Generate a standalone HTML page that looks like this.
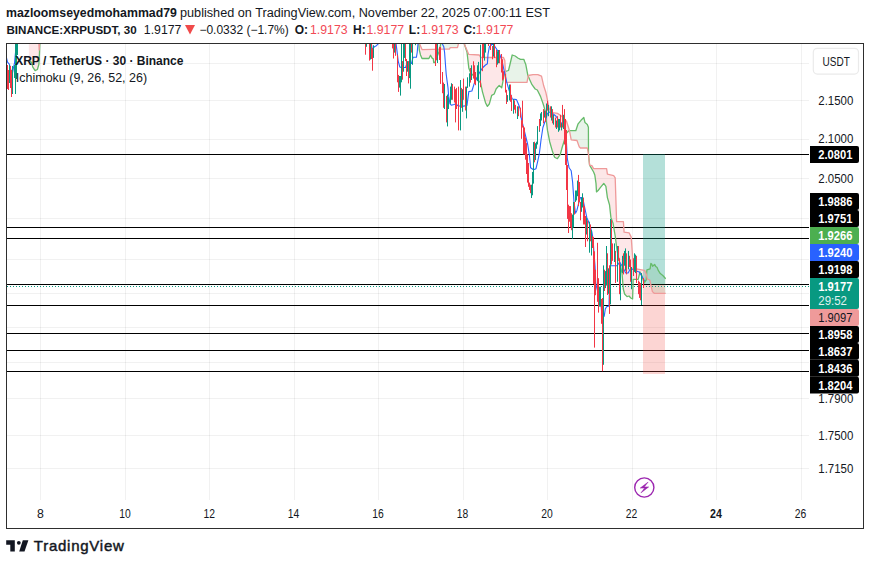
<!DOCTYPE html>
<html><head><meta charset="utf-8"><style>
html,body{margin:0;padding:0;background:#fff;width:870px;height:565px;overflow:hidden;position:relative;font-family:"Liberation Sans",sans-serif;color:#131722}
svg text{font-family:"Liberation Sans",sans-serif}
.t{position:absolute;white-space:pre;line-height:1}
.b{font-weight:bold}
.r{color:#F24A55}
</style></head><body>
<svg width="870" height="565" viewBox="0 0 870 565" style="position:absolute;left:0;top:0">
<defs><clipPath id="cp"><rect x="7" y="44" width="856" height="483"/></clipPath></defs>
<rect x="7" y="63" width="802" height="1" fill="rgba(0,0,0,0.055)"/><rect x="7" y="100" width="802" height="1" fill="rgba(0,0,0,0.055)"/><rect x="7" y="139" width="802" height="1" fill="rgba(0,0,0,0.055)"/><rect x="7" y="178" width="802" height="1" fill="rgba(0,0,0,0.055)"/><rect x="7" y="218" width="802" height="1" fill="rgba(0,0,0,0.055)"/><rect x="7" y="259" width="802" height="1" fill="rgba(0,0,0,0.055)"/><rect x="7" y="293" width="802" height="1" fill="rgba(0,0,0,0.055)"/><rect x="7" y="327" width="802" height="1" fill="rgba(0,0,0,0.055)"/><rect x="7" y="362" width="802" height="1" fill="rgba(0,0,0,0.055)"/><rect x="7" y="398" width="802" height="1" fill="rgba(0,0,0,0.055)"/><rect x="7" y="435" width="802" height="1" fill="rgba(0,0,0,0.055)"/><rect x="7" y="468" width="802" height="1" fill="rgba(0,0,0,0.055)"/><rect x="40" y="44" width="1" height="456" fill="rgba(0,0,0,0.055)"/><rect x="125" y="44" width="1" height="456" fill="rgba(0,0,0,0.055)"/><rect x="209" y="44" width="1" height="456" fill="rgba(0,0,0,0.055)"/><rect x="294" y="44" width="1" height="456" fill="rgba(0,0,0,0.055)"/><rect x="378" y="44" width="1" height="456" fill="rgba(0,0,0,0.055)"/><rect x="463" y="44" width="1" height="456" fill="rgba(0,0,0,0.055)"/><rect x="547" y="44" width="1" height="456" fill="rgba(0,0,0,0.055)"/><rect x="632" y="44" width="1" height="456" fill="rgba(0,0,0,0.055)"/><rect x="716" y="44" width="1" height="456" fill="rgba(0,0,0,0.055)"/><rect x="801" y="44" width="1" height="456" fill="rgba(0,0,0,0.055)"/>
<g clip-path="url(#cp)">
<rect x="7" y="154" width="802" height="1" fill="#000"/><rect x="7" y="227" width="802" height="1" fill="#000"/><rect x="7" y="238" width="802" height="1" fill="#000"/><rect x="7" y="284" width="802" height="1" fill="#000"/><rect x="7" y="305" width="802" height="1" fill="#000"/><rect x="7" y="333" width="802" height="1" fill="#000"/><rect x="7" y="350" width="802" height="1" fill="#000"/><rect x="7" y="371" width="802" height="1" fill="#000"/>
<rect x="643" y="154" width="22" height="130" fill="rgba(8,153,129,0.3)"/>
<rect x="643" y="285" width="22" height="89" fill="rgba(240,62,55,0.22)"/>
<polygon fill="rgba(242,54,69,0.12)" points="28.9,60.1 29.15,60.32 29.4,60.54 29.65,60.77 29.9,60.99 30.15,61.21 30.4,61.43 30.65,61.66 30.9,61.88 31.15,62.1 31.4,62.32 31.6,62.5 31.65,62.69 31.9,63.65 32.15,64.61 32.4,65.57 32.65,66.53 32.8,67.1 32.9,67.26 33.15,67.65 33.4,68.04 33.65,68.43 33.9,68.82 34.15,69.21 34.4,69.6 34.65,70 34.9,70.39 35.1,70.7 35.15,70.67 35.4,70.54 35.65,70.41 35.9,70.28 36.15,70.15 36.4,70.02 36.65,69.89 36.9,69.76 37.15,69.63 37.4,69.5 37.65,68.62 37.8,68.09 37.9,67.73 38.15,66.85 38.4,65.97 38.65,65.08 38.9,64.2 39.15,59.33 39.2,58.35 39.4,54.45 39.5,52.5 39.65,48.4 39.8,44.3 39.9,40.83 40.15,32.15 40.34,25.6 40.34,25.6 40.15,29.64 39.9,35 39.8,37.14 39.65,40.36 39.5,43.57 39.4,45.71 39.2,50 39.15,48.93 38.9,43.57 38.65,38.21 38.4,32.86 38.15,27.5 37.9,22.14 37.8,20 37.65,20 37.4,20 37.15,20 36.9,20 36.65,20 36.4,20 36.15,20 35.9,20 35.65,20 35.4,20 35.15,20 35.1,20 34.9,20 34.65,20 34.4,20 34.15,20 33.9,20 33.65,20 33.4,20 33.15,20 32.9,20 32.8,20 32.65,20 32.4,20 32.15,20 31.9,20 31.65,20 31.6,20 31.4,20 31.15,20 30.9,20 30.65,20 30.4,20 30.15,20 29.9,20 29.65,20 29.4,20 29.15,20 28.9,20"/><polygon fill="rgba(67,160,71,0.12)" points="40.34,25.6 40.4,23.47 40.5,20 40.5,22.14 40.4,24.29 40.34,25.6"/><polygon fill="rgba(242,54,69,0.12)" points="418.5,20 418.75,39.17 418.8,43 419,45.8 419.25,49.3 419.3,50 419.5,50.82 419.75,51.84 420,52.86 420.25,53.88 420.5,54.9 420.75,55.5 421,56.1 421.25,56.7 421.5,57.3 421.75,57.9 422,58.5 422.25,58.5 422.5,58.5 422.75,58.5 423,58.5 423.25,58.5 423.5,58.5 423.75,58.5 424,58.5 424.25,58.5 424.5,58.5 424.75,58.5 425,58.5 425.25,58.5 425.5,58.5 425.75,58.5 426,58.5 426.25,58.5 426.5,58.5 426.75,58.5 427,58.5 427.25,58.5 427.5,58.5 427.75,58.5 428,58.5 428.25,58.5 428.5,58.5 428.75,58.5 428.9,58.5 429,58.3 429.25,57.8 429.5,57.3 429.75,56.8 430,56.3 430.25,55.8 430.5,55.3 430.75,55.74 431,56.17 431.25,56.61 431.5,57.05 431.75,57.49 432,57.92 432.1,58.1 432.25,58.2 432.5,58.37 432.75,58.53 433,58.7 433.25,58.87 433.3,58.9 433.5,60.7 433.7,62.5 433.75,62.5 434,62.5 434.25,62.5 434.5,62.5 434.75,62.5 435,62.5 435.25,61.81 435.5,61.12 435.75,60.44 436,59.75 436.25,59.06 436.5,58.38 436.75,57.69 437,57 437.25,56.34 437.5,55.67 437.75,55.01 438,54.35 438.25,53.69 438.5,53.03 438.75,52.36 439,51.7 439.25,50.56 439.5,49.42 439.53,49.28 439.53,49.28 439.5,49.28 439.25,49.28 439,49.29 438.75,49.29 438.5,49.3 438.25,49.3 438,49.31 437.75,49.31 437.5,49.32 437.25,49.32 437,49.32 436.75,49.33 436.5,49.33 436.25,49.34 436,49.34 435.75,49.35 435.5,49.35 435.25,49.36 435,49.36 434.75,49.37 434.5,49.37 434.25,49.38 434,49.38 433.75,49.38 433.7,49.39 433.5,49.39 433.3,49.39 433.25,49.39 433,49.4 432.75,49.4 432.5,49.41 432.25,49.41 432.1,49.41 432,49.42 431.75,49.42 431.5,49.43 431.25,49.43 431,49.43 430.75,49.44 430.5,49.44 430.25,49.45 430,49.45 429.75,49.46 429.5,49.46 429.25,49.47 429,49.47 428.9,49.47 428.75,49.48 428.5,49.48 428.25,49.49 428,49.49 427.75,49.49 427.5,49.5 427.25,49.5 427,49.51 426.75,49.51 426.5,49.52 426.25,49.52 426,49.53 425.75,49.53 425.5,49.54 425.25,49.54 425,49.54 424.75,49.55 424.5,49.55 424.25,49.56 424,49.56 423.75,49.57 423.5,49.57 423.25,49.58 423,49.58 422.75,49.59 422.5,49.59 422.25,49.6 422,49.6 421.75,48.99 421.5,48.38 421.25,47.77 421,47.16 420.75,46.54 420.5,45.93 420.25,45.32 420,44.71 419.75,44.1 419.5,43.49 419.3,43 419.25,41.56 419,34.37 418.8,28.63 418.75,27.19 418.5,20"/><polygon fill="rgba(67,160,71,0.12)" points="439.53,49.28 439.75,48.28 440,47.14 440.25,46 440.5,44.86 440.6,44.4 440.75,40.33 441,33.56 441.25,26.78 441.5,20 441.75,20 442,20 442.25,20 442.5,20 442.75,20 443,20 443.25,20 443.5,20 443.75,20 443.8,20 444,20 444.25,20 444.5,20 444.75,20 445,20 445.25,20 445.5,20 445.75,20 446,20 446.25,20 446.5,20 446.75,20 447,20 447.25,20 447.5,20 447.75,20 448,20 448.25,20 448.5,20 448.75,20 449,20 449.25,20 449.4,20 449.5,20 449.75,20 450,20 450.2,20 450.25,20 450.5,20 450.75,20 451,20 451.25,20 451.5,20 451.75,20 452,20 452.25,20 452.5,20 452.75,20 453,20 453.25,20 453.5,20 453.75,20 454,20 454.25,20 454.5,20 454.75,20 455,20 455.25,20 455.5,20 455.75,20 456,20 456.25,20 456.5,20 456.75,20 457,20 457.25,20 457.5,20 457.75,20 458,20 458.25,20 458.3,20 458.5,20 458.75,20 459,20 459.2,20 459.2,20 459,25.42 458.75,32.2 458.5,38.98 458.3,44.4 458.25,44.6 458,45.6 457.75,46.6 457.5,47.6 457.25,47.6 457,47.6 456.75,47.6 456.5,47.6 456.25,47.6 456,47.6 455.75,47.6 455.5,47.6 455.25,47.6 455,47.6 454.75,47.6 454.5,47.6 454.25,47.6 454,47.6 453.75,47.6 453.5,47.6 453.25,47.6 453,47.6 452.75,47.6 452.5,47.6 452.25,47.6 452,47.6 451.75,47.6 451.5,47.6 451.25,47.6 451,47.6 450.75,47.6 450.5,47.6 450.25,47.6 450.2,47.6 450,48 449.75,48.5 449.5,49 449.4,49.2 449.25,49.2 449,49.2 448.75,49.2 448.5,49.2 448.25,49.2 448,49.2 447.75,49.2 447.5,49.2 447.25,49.2 447,49.2 446.75,49.2 446.5,49.2 446.25,49.2 446,49.2 445.75,49.2 445.5,49.2 445.25,49.2 445,49.2 444.75,49.2 444.5,49.2 444.25,49.2 444,49.2 443.8,49.2 443.75,49.2 443.5,49.21 443.25,49.21 443,49.21 442.75,49.22 442.5,49.22 442.25,49.23 442,49.23 441.75,49.24 441.5,49.24 441.25,49.25 441,49.25 440.75,49.26 440.6,49.26 440.5,49.26 440.25,49.27 440,49.27 439.75,49.27 439.53,49.28"/><polygon fill="rgba(67,160,71,0.12)" points="464.2,20 464.45,40.42 464.5,44.5 464.5,44.5 464.5,44.5 464.5,44.5 464.45,40.42 464.2,20"/><polygon fill="rgba(242,54,69,0.12)" points="464.5,44.5 464.7,45.1 464.95,45.85 465.2,46.6 465.45,47.35 465.7,48.1 465.95,48.85 466.2,49.6 466.45,50.35 466.7,51.1 466.95,51.85 467,52 467.2,53.78 467.45,56 467.7,58.22 467.95,60.44 468.2,62.67 468.45,64.89 468.7,67.11 468.8,68 468.95,68.39 469.2,69.05 469.45,69.71 469.7,70.37 469.95,71.03 470.2,71.68 470.45,72.34 470.7,73 470.95,73.24 471.2,73.47 471.45,73.71 471.7,73.94 471.95,74.18 472.2,74.42 472.45,74.65 472.7,74.89 472.95,75.12 473.2,75.36 473.45,75.59 473.7,75.83 473.95,76.07 474.2,76.3 474.45,76.54 474.7,76.77 474.95,77.01 475.2,77.25 475.45,77.48 475.7,77.72 475.95,77.95 476,78 476.2,78.21 476.45,78.48 476.7,78.75 476.95,79.01 477.2,79.28 477.45,79.54 477.7,79.81 477.95,80.08 478.2,80.34 478.45,80.61 478.7,80.88 478.95,81.14 479.2,81.41 479.3,81.52 479.45,81.67 479.7,81.94 479.95,82.21 480.2,82.47 480.45,82.74 480.6,82.9 480.7,83.38 480.95,84.59 481.2,85.8 481.45,87.01 481.7,88.22 481.95,89.42 482.2,90.63 482.4,91.6 482.45,91.78 482.7,92.67 482.95,93.57 483.2,94.46 483.45,95.36 483.7,96.25 483.95,97.15 484.2,98.05 484.45,98.94 484.7,99.84 484.95,100.73 485.2,101.63 485.45,102.52 485.5,102.7 485.7,103.09 485.95,103.58 486.2,104.06 486.45,104.55 486.7,105.04 486.95,105.52 487.2,106.01 487.4,106.4 487.45,106.34 487.7,106.02 487.95,105.71 488.2,105.39 488.45,105.07 488.7,104.76 488.95,104.44 489.2,104.13 489.3,104 489.45,103.46 489.7,102.55 489.95,101.64 490.2,100.74 490.45,99.83 490.7,98.93 490.95,98.02 491.2,97.11 491.45,96.21 491.7,95.3 491.95,95.17 492.2,95.04 492.45,94.91 492.7,94.78 492.95,94.65 493.2,94.52 493.45,94.39 493.7,94.26 493.95,94.13 494.2,94 494.45,93.34 494.7,92.68 494.95,92.03 495.2,91.37 495.45,90.71 495.7,90.05 495.95,89.39 496.1,89 496.2,88.88 496.45,88.59 496.7,88.3 496.95,88.01 497.2,87.72 497.45,87.43 497.7,87.14 497.95,86.85 498.2,86.56 498.45,86.27 498.7,85.98 498.95,85.69 499.2,85.4 499.45,85.64 499.7,85.88 499.95,86.12 500.2,86.36 500.45,86.6 500.7,86.84 500.95,87.08 501.2,87.32 501.45,87.56 501.7,87.8 501.95,86.53 502.2,85.26 502.45,83.99 502.7,82.72 502.9,81.7 502.95,81.44 503.2,80.12 503.45,78.81 503.5,78.54 503.7,77.49 503.95,76.17 504.2,74.86 504.45,73.54 504.7,72.23 504.8,71.7 504.95,71.65 505.2,71.57 505.4,71.5 505.4,71.5 505.2,67.83 504.95,63.31 504.8,60.6 504.7,60.36 504.45,59.77 504.2,59.17 503.95,58.57 503.7,57.98 503.5,57.5 503.45,57.5 503.2,57.5 502.95,57.5 502.9,57.5 502.7,57.5 502.45,57.5 502.2,57.5 501.95,57.5 501.7,57.5 501.45,57.5 501.2,57.5 500.95,57.5 500.7,57.5 500.45,57.5 500.2,57.5 499.95,57.5 499.7,57.5 499.45,57.5 499.2,57.5 498.95,57.5 498.7,57.5 498.45,57.5 498.2,57.5 497.95,57.5 497.7,57.5 497.45,57.5 497.2,57.5 496.95,57.5 496.7,57.5 496.45,57.5 496.2,57.5 496.1,57.5 495.95,57.5 495.7,57.5 495.45,57.5 495.2,57.5 494.95,57.5 494.7,57.5 494.45,57.5 494.2,57.5 493.95,57.5 493.7,57.5 493.45,57.5 493.2,57.5 492.95,57.5 492.7,57.5 492.45,57.5 492.2,57.5 491.95,57.5 491.7,57.5 491.45,57.5 491.2,57.5 490.95,57.5 490.7,57.5 490.45,57.5 490.2,57.5 489.95,57.5 489.7,57.5 489.45,57.5 489.3,57.5 489.2,57.5 488.95,57.5 488.7,57.5 488.45,57.5 488.2,57.5 487.95,57.5 487.7,57.5 487.45,57.5 487.4,57.5 487.2,57.5 486.95,57.5 486.7,57.5 486.45,57.5 486.2,57.5 485.95,57.5 485.7,57.5 485.5,57.5 485.45,57.5 485.2,57.5 484.95,57.5 484.7,57.5 484.45,57.5 484.2,57.5 483.95,57.5 483.7,57.5 483.45,57.5 483.2,57.5 482.95,57.5 482.7,57.5 482.45,57.5 482.4,57.5 482.2,57.5 481.95,57.5 481.7,57.5 481.45,57.5 481.2,57.5 480.95,57.5 480.7,57.5 480.6,57.5 480.45,57.21 480.2,56.73 479.95,56.25 479.7,55.77 479.45,55.29 479.3,55 479.2,54.99 478.95,54.98 478.7,54.97 478.45,54.95 478.2,54.94 477.95,54.92 477.7,54.91 477.45,54.89 477.2,54.88 476.95,54.87 476.7,54.85 476.45,54.84 476.2,54.82 476,54.81 475.95,54.81 475.7,54.79 475.45,54.78 475.2,54.77 474.95,54.75 474.7,54.74 474.45,54.72 474.2,54.71 473.95,54.69 473.7,54.68 473.45,54.67 473.2,54.65 472.95,54.64 472.7,54.62 472.45,54.61 472.2,54.59 471.95,54.58 471.7,54.57 471.45,54.55 471.2,54.54 470.95,54.52 470.7,54.51 470.45,54.49 470.2,54.48 469.95,54.47 469.7,54.45 469.45,54.44 469.2,54.42 468.95,54.41 468.8,54.4 468.7,54.17 468.45,53.59 468.2,53.02 467.95,52.44 467.7,51.87 467.45,51.29 467.2,50.72 467,50.26 466.95,50.14 466.7,49.57 466.45,48.99 466.2,48.41 465.95,47.84 465.7,47.26 465.45,46.69 465.2,46.11 464.95,45.54 464.7,44.96 464.5,44.5"/><polygon fill="rgba(67,160,71,0.12)" points="505.4,71.5 505.45,71.49 505.7,71.41 505.95,71.33 506,71.31 506.2,71.25 506.45,71.16 506.7,71.08 506.95,71 507.2,70.92 507.45,70.84 507.7,70.76 507.95,70.68 508.2,70.6 508.45,70.52 508.5,70.5 508.7,69.67 508.95,68.63 509.2,67.58 509.45,66.54 509.7,65.5 509.95,64.46 510.2,63.42 510.3,63 510.45,62.37 510.7,61.32 510.95,60.26 511.2,59.21 511.45,58.16 511.7,57.11 511.95,56.05 512.2,55 512.45,55.08 512.7,55.17 512.95,55.25 513.2,55.33 513.45,55.42 513.7,55.5 513.95,55.58 514.2,55.67 514.45,55.75 514.7,55.83 514.95,55.92 515.2,56 515.45,56.19 515.7,56.38 515.95,56.58 516.2,56.77 516.45,56.96 516.7,57.15 516.95,57.35 517.2,57.54 517.45,57.73 517.7,57.92 517.8,58 517.95,58.07 518.2,58.19 518.45,58.31 518.7,58.43 518.95,58.55 519.2,58.67 519.45,58.79 519.7,58.91 519.95,59.04 520.2,59.16 520.45,59.28 520.5,59.3 520.7,59.3 520.95,59.3 521.2,59.3 521.45,59.3 521.7,59.3 521.95,59.3 522.2,59.3 522.45,59.3 522.7,59.3 522.95,59.3 523.2,59.3 523.45,59.3 523.7,59.3 523.8,59.3 523.95,59.73 524.2,60.44 524.45,61.16 524.5,61.3 524.7,61.81 524.95,62.44 525.2,63.08 525.45,63.71 525.7,64.35 525.8,64.6 525.95,65.4 526.2,66.72 526.45,68.05 526.7,69.37 526.95,70.7 527,70.96 527.2,72.02 527.45,73.35 527.7,74.67 527.8,75.2 527.95,75.55 528.18,76.1 528.18,76.1 527.95,77.33 527.8,78.12 527.7,78.64 527.45,79.95 527.2,81.25 527,82.3 526.95,82.3 526.7,82.3 526.45,82.3 526.2,82.3 525.95,82.3 525.8,82.3 525.7,82.3 525.45,82.3 525.2,82.3 524.95,82.3 524.7,82.3 524.5,82.3 524.45,82.3 524.2,82.3 523.95,82.3 523.8,82.3 523.7,82.3 523.45,82.3 523.2,82.3 522.95,82.3 522.7,82.3 522.45,82.3 522.2,82.3 521.95,82.3 521.7,82.3 521.45,82.3 521.2,82.3 520.95,82.3 520.7,82.3 520.5,82.3 520.45,82.3 520.2,82.3 519.95,82.3 519.7,82.3 519.45,82.3 519.2,82.3 518.95,82.3 518.7,82.3 518.45,82.3 518.2,82.3 517.95,82.3 517.8,82.3 517.7,82.3 517.45,82.3 517.2,82.3 516.95,82.3 516.7,82.3 516.45,82.3 516.2,82.3 515.95,82.3 515.7,82.3 515.45,82.3 515.2,82.3 514.95,82.3 514.7,82.3 514.45,82.3 514.2,82.3 513.95,82.3 513.7,82.3 513.45,82.3 513.2,82.3 512.95,82.3 512.7,82.3 512.45,82.3 512.2,82.3 511.95,82.3 511.7,82.3 511.45,82.3 511.2,82.3 510.95,82.3 510.7,82.3 510.45,82.3 510.3,82.3 510.2,82.3 509.95,82.3 509.7,82.3 509.45,82.3 509.2,82.3 508.95,82.3 508.7,82.3 508.5,82.3 508.45,82.3 508.2,82.3 507.95,82.3 507.7,82.3 507.45,82.3 507.2,82.3 506.95,82.3 506.7,82.3 506.45,82.3 506.2,82.3 506,82.3 505.95,81.4 505.7,76.87 505.45,72.35 505.4,71.5"/><polygon fill="rgba(242,54,69,0.12)" points="528.18,76.1 528.2,76.14 528.3,76.38 528.45,76.73 528.7,77.32 528.95,77.91 529.2,78.49 529.45,79.08 529.5,79.2 529.7,79.64 529.95,80.19 530.2,80.74 530.45,81.29 530.7,81.84 530.95,82.39 531.2,82.94 531.45,83.49 531.7,84.04 531.95,84.59 532,84.7 532.2,84.97 532.45,85.3 532.7,85.64 532.95,85.98 533,86.04 533.2,86.31 533.45,86.65 533.7,86.98 533.95,87.32 534.2,87.66 534.45,87.99 534.7,88.33 534.95,88.66 535.2,89 535.45,89.12 535.7,89.24 535.95,89.36 536.2,89.48 536.45,89.6 536.7,89.71 536.95,89.83 537.2,89.95 537.3,90 537.45,90.3 537.7,90.8 537.8,91 537.95,91.3 538.2,91.8 538.45,92.3 538.7,92.8 538.95,93.3 539.2,93.8 539.45,94.3 539.7,94.8 539.95,95.3 540.2,95.8 540.45,96.3 540.5,96.4 540.7,96.97 540.95,97.68 541.2,98.39 541.45,99.1 541.5,99.25 541.7,99.82 541.95,100.53 542.2,101.24 542.45,101.95 542.7,102.66 542.95,103.37 543.1,103.8 543.2,104.13 543.45,104.96 543.7,105.79 543.95,106.62 544.2,107.44 544.45,108.27 544.7,109.1 544.95,110.87 545.2,112.64 545.45,114.4 545.7,116.17 545.8,116.88 545.95,117.94 546.1,119 546.2,119.81 546.45,121.85 546.7,123.89 546.95,125.92 547.2,127.96 547.4,129.59 547.45,129.99 547.5,130.4 547.7,131.43 547.95,132.71 548.2,134 548.45,135.28 548.7,136.56 548.95,137.85 549,138.1 549.2,139.13 549.45,140.42 549.7,141.7 549.95,142.58 550.2,143.47 550.45,144.35 550.7,145.24 550.95,146.12 551.1,146.65 551.2,147 551.45,147.89 551.7,148.77 551.95,149.66 552.2,150.54 552.45,151.42 552.5,151.6 552.7,152.13 552.95,152.8 553.2,153.47 553.45,154.13 553.7,154.8 553.95,155.47 554.2,156.13 554.45,156.8 554.6,157.2 554.7,157.25 554.95,157.39 555.2,157.52 555.45,157.66 555.7,157.79 555.95,157.92 556.2,158.06 556.45,158.19 556.7,158.33 556.95,158.46 557.2,158.59 557.4,158.7 557.45,158.63 557.5,158.55 557.7,158.26 557.95,157.88 558.2,157.51 558.45,157.14 558.7,156.77 558.95,156.4 559.2,156.03 559.45,155.66 559.7,155.29 559.95,154.92 560.2,154.55 560.3,154.4 560.45,153.84 560.7,152.89 560.95,151.95 561.2,151.01 561.45,150.07 561.7,149.13 561.95,148.19 562,148 562.2,147.35 562.45,146.53 562.7,145.72 562.95,144.9 563.2,144.09 563.45,143.27 563.7,142.46 563.95,141.64 564.2,140.83 564.45,140.01 564.5,139.85 564.7,139.2 564.95,138.38 565.2,137.57 565.45,136.75 565.7,135.93 565.95,135.12 566.2,134.3 566.45,133.49 566.6,133 566.7,132.9 566.95,132.65 567.2,132.4 567.45,132.15 567.7,131.9 567.95,131.65 568.2,131.4 568.45,131.15 568.7,130.9 568.9,130.7 568.95,130.7 569.2,130.7 569.45,130.7 569.5,130.7 569.5,130.7 569.5,130.7 569.5,130.7 569.45,130.54 569.2,129.75 568.95,128.96 568.9,128.8 568.7,128.16 568.45,127.37 568.2,126.58 567.95,125.78 567.7,124.99 567.45,124.2 567.2,123.4 566.95,122.61 566.7,121.82 566.6,121.5 566.45,121.32 566.2,121.02 565.95,120.73 565.7,120.43 565.45,120.13 565.2,119.83 564.95,119.54 564.7,119.24 564.5,119 564.45,118.95 564.2,118.7 563.95,118.45 563.7,118.2 563.45,117.95 563.2,117.7 562.95,117.45 562.7,117.2 562.45,116.95 562.2,116.7 562,116.5 561.95,116.45 561.7,116.2 561.45,116.03 561.2,115.87 560.95,115.7 560.7,115.53 560.45,115.37 560.3,115.27 560.2,115.2 559.95,115.03 559.7,114.87 559.45,114.7 559.2,114.53 558.95,114.37 558.7,114.2 558.45,114.03 558.2,113.87 557.95,113.7 557.7,113.53 557.5,113.4 557.45,113.39 557.4,113.38 557.2,113.35 556.95,113.31 556.7,113.26 556.45,113.22 556.2,113.18 555.95,113.13 555.7,113.09 555.45,113.05 555.2,113 554.95,112.96 554.7,112.92 554.6,112.9 554.45,112.88 554.2,112.83 553.95,112.79 553.7,112.75 553.45,112.7 553.2,112.66 552.95,112.62 552.7,112.58 552.5,112.54 552.45,112.53 552.2,112.49 551.95,112.45 551.7,112.4 551.45,112.36 551.2,112.32 551.1,112.3 550.95,112 550.7,111.5 550.45,111 550.2,110.5 549.95,110 549.7,109.5 549.45,109 549.2,108.5 549,108.1 548.95,107.83 548.7,106.51 548.45,105.18 548.2,103.85 547.95,102.52 547.7,101.19 547.5,100.13 547.45,99.87 547.4,99.6 547.2,98.68 546.95,97.52 546.7,96.36 546.45,95.21 546.2,94.05 546.1,93.59 545.95,92.89 545.8,92.2 545.7,91.9 545.45,91.13 545.2,90.37 544.95,89.61 544.7,88.85 544.45,88.09 544.2,87.32 543.95,86.56 543.7,85.8 543.45,84.71 543.2,83.62 543.1,83.18 542.95,82.53 542.7,81.44 542.45,80.35 542.2,79.25 541.95,78.16 541.7,77.07 541.5,76.2 541.45,76.18 541.2,76.07 540.95,75.96 540.7,75.85 540.5,75.77 540.45,75.75 540.2,75.64 539.95,75.53 539.7,75.42 539.45,75.31 539.2,75.21 538.95,75.1 538.7,74.99 538.45,74.88 538.2,74.77 537.95,74.66 537.8,74.6 537.7,74.6 537.45,74.6 537.3,74.6 537.2,74.6 536.95,74.6 536.7,74.6 536.45,74.6 536.2,74.6 535.95,74.6 535.7,74.6 535.45,74.6 535.2,74.6 534.95,74.6 534.7,74.6 534.45,74.6 534.2,74.6 533.95,74.6 533.7,74.6 533.45,74.6 533.2,74.6 533,74.6 532.95,74.61 532.7,74.66 532.45,74.71 532.2,74.75 532,74.79 531.95,74.8 531.7,74.85 531.45,74.9 531.2,74.94 530.95,74.99 530.7,75.04 530.45,75.09 530.2,75.14 529.95,75.18 529.7,75.23 529.5,75.27 529.45,75.28 529.2,75.33 528.95,75.38 528.7,75.42 528.45,75.47 528.3,75.5 528.2,76.02 528.18,76.1"/><polygon fill="rgba(67,160,71,0.12)" points="569.5,130.7 569.7,130.7 569.95,130.7 570.2,130.7 570.45,130.7 570.7,130.7 570.95,130.7 571.2,130.7 571.45,130.7 571.7,130.7 571.95,130.7 572.2,130.7 572.45,130.7 572.7,130.7 572.95,130.7 573.2,130.7 573.45,130.7 573.7,130.7 573.95,130.7 574.2,130.7 574.45,130.7 574.7,130.7 574.95,130.7 575.2,130.7 575.45,130.7 575.7,130.7 575.8,130.7 575.95,130.25 576.2,129.5 576.45,128.75 576.7,128 576.95,127.25 577,127.1 577.2,126.5 577.45,125.75 577.7,125 577.95,124.25 578.1,123.8 578.2,123.68 578.45,123.38 578.7,123.08 578.95,122.77 579.2,122.47 579.45,122.17 579.7,121.87 579.95,121.57 580.2,121.27 580.4,121.02 580.45,120.96 580.7,120.66 580.95,120.36 581,120.3 581.2,120.1 581.45,119.85 581.7,119.6 581.95,119.35 582.2,119.1 582.45,118.85 582.7,118.6 582.95,118.35 583.2,118.1 583.45,117.85 583.7,117.6 583.8,117.5 583.95,118.14 584.2,119.2 584.45,120.26 584.7,121.33 584.95,122.39 585,122.6 585.2,122.76 585.45,122.95 585.7,123.15 585.95,123.34 586.2,123.54 586.45,123.73 586.7,123.93 586.95,124.13 587.2,124.32 587.3,124.4 587.45,124.78 587.7,125.42 587.95,126.05 588.2,126.69 588.4,127.2 588.45,140.45 588.5,153.7 588.7,155.79 588.95,158.4 589.2,161.02 589.45,163.63 589.6,165.2 589.6,165.2 589.6,165.2 589.6,165.2 589.45,163.76 589.2,161.37 588.95,158.97 588.7,156.58 588.5,154.66 588.45,154.18 588.4,153.7 588.2,152.66 587.95,151.37 587.7,150.07 587.45,148.78 587.3,148 587.2,148 586.95,148 586.7,148 586.45,148 586.2,148 585.95,148 585.7,148 585.45,148 585.2,148 585,148 584.95,148 584.7,148 584.45,148 584.2,148 583.95,148 583.8,148 583.7,148 583.45,148 583.2,148 582.95,148 582.7,148 582.45,148 582.2,148 581.95,148 581.7,148 581.45,148 581.2,148 581,148 580.95,148 580.7,148 580.45,148 580.4,148 580.2,147.8 579.95,147.55 579.7,147.3 579.45,147.05 579.2,146.8 578.95,146.08 578.7,145.37 578.45,144.65 578.2,143.94 578.1,143.65 577.95,143.22 577.7,142.5 577.45,141.79 577.2,141.07 577,140.5 576.95,140.49 576.7,140.47 576.45,140.44 576.2,140.42 575.95,140.39 575.8,140.38 575.7,140.37 575.45,140.34 575.2,140.31 574.95,140.29 574.7,140.26 574.45,140.24 574.2,140.21 573.95,140.18 573.7,140.16 573.45,140.13 573.2,140.11 572.95,140.08 572.7,140.06 572.45,140.03 572.2,140 571.95,139.98 571.7,139.95 571.45,139.93 571.2,139.9 570.95,138.55 570.7,137.19 570.45,135.84 570.2,134.49 569.95,133.14 569.7,131.78 569.5,130.7"/><polygon fill="rgba(242,54,69,0.12)" points="589.6,165.2 589.7,165.37 589.95,165.8 590.2,166.22 590.45,166.65 590.7,167.07 590.95,167.5 591.2,167.92 591.45,168.35 591.7,168.77 591.9,169.11 591.95,169.2 592.2,169.62 592.45,170.05 592.7,170.47 592.95,170.9 593.2,171.32 593.45,171.75 593.6,172 593.7,172.25 593.95,172.88 594.2,173.5 594.45,174.13 594.7,174.75 594.8,175 594.95,176.05 595.2,177.8 595.45,179.55 595.7,181.3 595.95,183.05 596,183.4 596.2,186.8 596.45,191.05 596.5,191.9 596.7,191.72 596.95,191.51 597.2,191.29 597.45,191.07 597.7,190.85 597.95,190.63 598.1,190.5 598.2,190.37 598.45,190.05 598.7,189.74 598.95,189.42 599.2,189.1 599.45,188.78 599.7,188.46 599.95,188.15 600.2,187.83 600.3,187.7 600.45,187.52 600.7,187.21 600.95,186.9 601.2,186.59 601.45,186.29 601.7,185.98 601.95,185.67 602.2,185.37 602.45,185.06 602.7,184.75 602.95,184.44 603.2,184.14 603.45,183.83 603.7,183.52 603.8,183.4 603.95,183.61 604.2,183.95 604.45,184.3 604.7,184.64 604.95,184.99 605.2,185.33 605.45,185.68 605.7,186.02 605.9,186.3 605.95,186.68 606.2,188.56 606.45,190.44 606.6,191.57 606.7,192.33 606.95,194.21 607.2,196.09 607.4,197.6 607.45,197.77 607.7,198.61 607.95,199.46 608.2,200.3 608.45,201.15 608.7,202 608.95,202.84 609.2,203.69 609.45,204.53 609.5,204.7 609.7,206.51 609.95,208.78 610.2,211.05 610.45,213.32 610.7,215.59 610.9,217.4 610.95,217.54 611.2,218.21 611.45,218.89 611.7,219.57 611.95,220.25 612.2,220.93 612.45,221.61 612.7,222.29 612.95,222.96 613,223.1 613.2,224.27 613.45,225.74 613.7,227.2 613.95,228.67 614.2,230.14 614.45,231.6 614.7,233.07 614.95,234.53 615.2,236 615.45,237.94 615.7,239.89 615.95,241.83 616.2,243.78 616.45,245.72 616.6,246.89 616.7,247.67 616.95,249.61 617,250 617.2,250.96 617.45,252.16 617.7,253.36 617.95,254.56 618.2,255.76 618.45,256.96 618.7,258.16 618.95,259.36 619.2,260.56 619.45,261.76 619.5,262 619.7,262.88 619.95,263.98 620.2,265.08 620.45,266.18 620.7,267.28 620.95,268.38 621.2,269.48 621.45,270.58 621.7,271.68 621.95,272.78 622,273 622.2,275.46 622.45,278.54 622.7,281.62 622.95,284.69 623.2,287.77 623.3,289 623.4,289.38 623.45,289.58 623.7,290.54 623.95,291.5 624.1,292.08 624.2,292.46 624.45,293.42 624.6,294 624.7,294.11 624.95,294.38 625.2,294.65 625.45,294.92 625.7,295.19 625.95,295.46 626.2,295.73 626.45,296 626.7,296.28 626.95,296.55 627,296.6 627.2,296.54 627.45,296.47 627.7,296.39 627.95,296.31 628.2,296.24 628.45,296.17 628.7,296.09 628.95,296.01 629,296 629.1,296.11 629.2,296.22 629.45,296.5 629.7,296.78 629.95,297.06 630.2,297.33 630.45,297.61 630.7,297.89 630.8,298 630.95,298.08 631.2,298.22 631.45,298.36 631.7,298.5 631.95,298.64 632.2,298.78 632.45,298.92 632.6,299 632.7,295.72 632.95,287.51 633.2,279.3 633.4,279.3 633.45,279.3 633.7,279.3 633.95,279.3 634.2,279.3 634.45,279.3 634.7,279.3 634.95,279.3 635.2,279.3 635.45,279.3 635.7,279.3 635.95,279.3 636.2,279.3 636.45,279.3 636.7,279.3 636.95,279.3 637.2,279.3 637.45,279.3 637.7,279.3 637.95,279.3 638.2,279.3 638.45,278.29 638.7,277.27 638.95,276.26 639.2,275.24 639.45,274.23 639.7,273.22 639.95,272.2 640,272 640.2,272.38 640.45,272.85 640.7,273.33 640.95,273.8 641.2,274.27 641.45,274.75 641.7,275.22 641.9,275.6 641.95,275.78 642.2,276.66 642.45,277.54 642.7,278.42 642.95,279.3 643.2,280.18 643.45,281.06 643.7,281.94 643.95,282.82 644,283 644.2,282.73 644.45,282.39 644.5,282.32 644.7,282.05 644.95,281.7 645.2,281.36 645.45,281.02 645.7,280.68 645.95,280.34 646.2,280 646.45,276.36 646.53,275.23 646.53,275.23 646.45,274.92 646.2,273.9 645.95,273.37 645.7,272.84 645.45,272.31 645.2,271.78 644.95,271.25 644.7,270.72 644.5,270.3 644.45,270.29 644.2,270.25 644,270.21 643.95,270.2 643.7,270.16 643.45,270.11 643.2,270.07 642.95,270.02 642.7,269.98 642.45,269.93 642.2,269.89 641.95,269.84 641.9,269.83 641.7,269.8 641.45,269.75 641.2,269.71 640.95,269.66 640.7,269.62 640.45,269.57 640.2,269.53 640,269.49 639.95,269.48 639.7,269.44 639.45,269.39 639.2,269.35 638.95,269.3 638.7,269.25 638.45,269.21 638.2,269.16 637.95,269.12 637.7,269.07 637.45,269.03 637.2,268.98 636.95,268.94 636.7,268.89 636.45,268.85 636.2,268.8 635.95,268.76 635.7,268.71 635.45,268.67 635.2,268.62 634.95,268.58 634.7,268.53 634.45,268.49 634.2,268.44 633.95,268.4 633.7,268.35 633.45,268.31 633.4,268.3 633.2,265.46 632.95,261.92 632.7,258.37 632.6,256.95 632.45,254.83 632.2,251.28 631.95,247.74 631.7,244.19 631.45,240.65 631.2,237.1 630.95,236.59 630.8,236.28 630.7,236.08 630.45,235.56 630.2,235.05 629.95,234.54 629.7,234.03 629.45,233.52 629.2,233 629.1,232.8 629,232.79 628.95,232.78 628.7,232.74 628.45,232.71 628.2,232.67 627.95,232.64 627.7,232.6 627.45,232.57 627.2,232.53 627,232.51 626.95,232.5 626.7,232.46 626.45,232.43 626.2,232.39 625.95,232.36 625.7,232.32 625.45,232.29 625.2,232.25 624.95,232.22 624.7,232.18 624.6,232.17 624.45,232.15 624.2,232.11 624.1,232.1 623.95,229.87 623.7,226.16 623.45,222.44 623.4,221.7 623.3,221.7 623.2,221.7 622.95,221.7 622.7,221.7 622.45,221.7 622.2,221.7 622,221.7 621.95,221.7 621.7,221.7 621.45,221.7 621.2,221.7 620.95,221.7 620.7,221.7 620.45,221.7 620.2,221.7 619.95,221.7 619.7,221.7 619.5,221.7 619.45,221.7 619.2,221.7 618.95,221.7 618.7,221.7 618.45,221.7 618.2,221.7 617.95,221.7 617.7,221.7 617.45,221.7 617.2,221.7 617,221.7 616.95,221.7 616.7,221.7 616.6,221.7 616.45,217 616.2,209.16 615.95,201.32 615.7,193.48 615.45,185.64 615.2,177.8 614.95,177.43 614.7,177.07 614.45,176.7 614.2,176.33 613.95,175.97 613.7,175.6 613.45,175.54 613.2,175.49 613,175.44 612.95,175.43 612.7,175.38 612.45,175.32 612.2,175.27 611.95,175.21 611.7,175.16 611.45,175.1 611.2,175.04 610.95,174.99 610.9,174.98 610.7,174.93 610.45,174.88 610.2,174.82 609.95,174.77 609.7,174.71 609.5,174.67 609.45,174.66 609.2,174.6 608.95,174.54 608.7,174.49 608.45,174.43 608.2,174.38 607.95,174.32 607.7,174.27 607.45,174.21 607.4,174.2 607.2,172.8 606.95,171.05 606.7,169.3 606.6,168.6 606.45,168.6 606.2,168.6 605.95,168.6 605.9,168.6 605.7,168.6 605.45,168.6 605.2,168.6 604.95,168.6 604.7,168.6 604.45,168.6 604.2,168.6 603.95,168.6 603.8,168.6 603.7,168.6 603.45,168.6 603.2,168.6 602.95,168.6 602.7,168.6 602.45,168.6 602.2,168.6 601.95,168.6 601.7,168.6 601.45,168.6 601.2,168.6 600.95,168.6 600.7,168.6 600.45,168.6 600.3,168.6 600.2,168.6 599.95,168.6 599.7,168.6 599.45,168.6 599.2,168.6 598.95,168.6 598.7,168.6 598.45,168.6 598.2,168.6 598.1,168.6 597.95,168.6 597.7,168.6 597.45,168.6 597.2,168.6 596.95,168.6 596.7,168.6 596.5,168.6 596.45,168.6 596.2,168.6 596,168.6 595.95,168.6 595.7,168.6 595.45,168.6 595.2,168.6 594.95,168.6 594.8,168.6 594.7,168.6 594.45,168.6 594.2,168.6 593.95,168.6 593.7,168.6 593.6,168.6 593.45,168.34 593.2,167.92 592.95,167.49 592.7,167.06 592.45,166.64 592.2,166.21 591.95,165.79 591.9,165.7 591.7,165.66 591.45,165.6 591.2,165.55 590.95,165.49 590.7,165.44 590.45,165.38 590.2,165.33 589.95,165.28 589.7,165.22 589.6,165.2"/><polygon fill="rgba(67,160,71,0.12)" points="646.53,275.23 646.7,272.71 646.9,269.8 646.95,269.78 647.2,269.71 647.45,269.63 647.5,269.61 647.7,269.55 647.95,269.47 648.2,269.39 648.45,269.32 648.7,269.24 648.95,269.16 649.2,269.08 649.45,269 649.7,268.93 649.8,268.89 649.95,268.85 650.1,268.8 650.2,268.12 650.45,266.44 650.6,265.42 650.7,264.75 650.9,263.4 650.95,263.44 651.2,263.62 651.45,263.81 651.7,264 651.95,264.64 652.2,265.28 652.4,265.79 652.45,265.92 652.6,266.3 652.7,266.2 652.95,265.97 653.2,265.73 653.45,265.49 653.7,265.25 653.95,265.02 654.2,264.78 654.45,264.54 654.6,264.4 654.7,264.58 654.95,265.04 655.2,265.5 655.45,265.96 655.7,266.42 655.8,266.6 655.95,266.72 656.2,266.91 656.45,267.1 656.7,267.29 656.95,267.48 657.1,267.6 657.2,267.84 657.45,268.43 657.7,269.03 657.95,269.63 658.2,270.22 658.4,270.7 658.45,270.78 658.7,271.16 658.95,271.54 659.2,271.92 659.45,272.3 659.7,272.68 659.95,273.07 660.2,273.45 660.3,273.6 660.45,273.71 660.7,273.9 660.95,274.09 661.2,274.28 661.45,274.47 661.7,274.66 661.95,274.85 662.2,275.04 662.45,275.23 662.7,275.42 662.8,275.5 662.95,275.67 663.2,275.94 663.45,276.22 663.7,276.49 663.95,276.77 664.2,277.04 664.45,277.32 664.7,277.6 664.95,277.87 665.2,278.15 665.45,278.42 665.7,278.7 665.7,293.3 665.45,293.3 665.2,293.3 664.95,293.3 664.7,293.3 664.45,293.3 664.2,293.3 663.95,293.3 663.7,293.3 663.45,293.3 663.2,293.3 662.95,293.3 662.8,293.3 662.7,293.3 662.45,293.3 662.2,293.3 661.95,293.3 661.7,293.3 661.45,293.3 661.2,293.3 660.95,293.3 660.7,293.3 660.45,293.3 660.3,293.3 660.2,293.3 659.95,293.3 659.7,293.3 659.45,293.3 659.2,293.3 658.95,293.3 658.7,293.3 658.45,293.3 658.4,293.3 658.2,293.3 657.95,293.3 657.7,293.3 657.45,293.3 657.2,293.3 657.1,293.3 656.95,293.3 656.7,293.3 656.45,293.3 656.2,293.3 655.95,293.3 655.8,293.3 655.7,293.3 655.45,293.3 655.2,293.3 654.95,293.3 654.7,293.3 654.6,293.3 654.45,293.3 654.2,293.3 653.95,293.06 653.7,292.83 653.45,292.59 653.2,292.36 652.95,292.12 652.7,291.88 652.6,291.79 652.45,291.65 652.4,291.6 652.2,290.71 651.95,289.6 651.7,288.49 651.45,287.38 651.2,286.27 650.95,285.16 650.9,284.93 650.7,284.04 650.6,283.6 650.45,282.93 650.2,281.8 650.1,281.35 649.95,280.68 649.8,280 649.7,279.97 649.45,279.88 649.2,279.79 648.95,279.7 648.7,279.62 648.45,279.53 648.2,279.44 647.95,279.36 647.7,279.27 647.5,279.2 647.45,279 647.2,277.98 646.95,276.96 646.9,276.75 646.7,275.94 646.53,275.23"/>
<polyline fill="none" stroke="#66BB6A" stroke-width="1.3" stroke-linejoin="round"  points="28.9,60.1 31.6,62.5 32.8,67.1 35.1,70.7 37.4,69.5 38.9,64.2 39.5,52.5 39.8,44.3 40.5,20"/><polyline fill="none" stroke="#66BB6A" stroke-width="1.3" stroke-linejoin="round"  points="418.5,20 418.8,43 419.3,50 420.5,54.9 422,58.5 428.9,58.5 430.5,55.3 432.1,58.1 433.3,58.9 433.7,62.5 435,62.5 437,57 439,51.7 440.6,44.4 441.5,20 459.2,20"/><polyline fill="none" stroke="#66BB6A" stroke-width="1.3" stroke-linejoin="round"  points="464.2,20 464.5,44.5 467,52 468.8,68 470.7,73 476,78 480.6,82.9 482.4,91.6 485.5,102.7 487.4,106.4 489.3,104 491.7,95.3 494.2,94 496.1,89 499.2,85.4 501.7,87.8 502.9,81.7 504.8,71.7 508.5,70.5 510.3,63 512.2,55 515.2,56 517.8,58 520.5,59.3 523.8,59.3 524.5,61.3 525.8,64.6 527.8,75.2 529.5,79.2 532,84.7 535.2,89 537.3,90 540.5,96.4 543.1,103.8 544.7,109.1 546.1,119 547.5,130.4 549.7,141.7 552.5,151.6 554.6,157.2 557.4,158.7 560.3,154.4 562,148 566.6,133 568.9,130.7 575.8,130.7 578.1,123.8 581,120.3 583.8,117.5 585,122.6 587.3,124.4 588.4,127.2 588.5,153.7 589.6,165.2 593.6,172 594.8,175 596,183.4 596.5,191.9 598.1,190.5 600.3,187.7 603.8,183.4 605.9,186.3 607.4,197.6 609.5,204.7 610.9,217.4 613,223.1 615.2,236 617,250 619.5,262 622,273 623.3,289 624.6,294 627,296.6 629,296 630.8,298 632.6,299 633.2,279.3 638.2,279.3 640,272 641.9,275.6 644,283 646.2,280 646.9,269.8 650.1,268.8 650.9,263.4 651.7,264 652.6,266.3 654.6,264.4 655.8,266.6 657.1,267.6 658.4,270.7 660.3,273.6 662.8,275.5 665.7,278.7"/>
<polyline fill="none" stroke="#EF9A9A" stroke-width="1.3" stroke-linejoin="round"  points="28.9,20 37.8,20 39.2,50 40.6,20"/><polyline fill="none" stroke="#EF9A9A" stroke-width="1.3" stroke-linejoin="round"  points="418.5,20 419.3,43 422,49.6 443.8,49.2 449.4,49.2 450.2,47.6 457.5,47.6 458.3,44.4 459.2,20"/><polyline fill="none" stroke="#EF9A9A" stroke-width="1.3" stroke-linejoin="round"  points="464.2,20 464.5,44.5 468.8,54.4 479.3,55 480.6,57.5 503.5,57.5 504.8,60.6 506,82.3 527,82.3 528.3,75.5 533,74.6 537.8,74.6 541.5,76.2 543.7,85.8 545.8,92.2 547.4,99.6 549,108.1 551.1,112.3 557.5,113.4 561.7,116.2 564.5,119 566.6,121.5 569.5,130.7 571.2,139.9 577,140.5 579.2,146.8 580.4,148 587.3,148 588.4,153.7 589.6,165.2 591.9,165.7 593.6,168.6 606.6,168.6 607.4,174.2 613.7,175.6 615.2,177.8 616.6,221.7 623.4,221.7 624.1,232.1 629.1,232.8 631.2,237.1 633.4,268.3 644.5,270.3 646.2,273.9 647.5,279.2 649.8,280 650.6,283.6 652.4,291.6 654.2,293.3 665.7,293.3"/>
<line x1="7" y1="286.5" x2="809" y2="286.5" stroke="#089981" stroke-width="1" stroke-dasharray="1 2" shape-rendering="crispEdges"/>
<polyline fill="none" stroke="#2962FF" stroke-width="1.1" stroke-linejoin="round"  points="4,50 6.5,57.9 7.5,62.2 9.5,64.3 11,70.6 12.5,72.8 13.5,67.5 14.5,63.2 15.5,52.6 17,43.6 18,30"/><polyline fill="none" stroke="#2962FF" stroke-width="1.1" stroke-linejoin="round"  points="369.5,30 372.2,49.4 374.3,46.8 376.4,45.7 378,44.1 380,30"/><polyline fill="none" stroke="#2962FF" stroke-width="1.1" stroke-linejoin="round"  points="395,30 396.1,44.1 397.2,52.6 398.2,61.1 399.8,67 401.4,67.5 405.6,67.5 407.2,62.5 411.5,63.5 413,57.3 416.4,57.3 417.2,52.5 418,43.6 419,30"/><polyline fill="none" stroke="#2962FF" stroke-width="1.1" stroke-linejoin="round"  points="441.5,30 442.2,43.6 443.8,46.8 444.6,52.5 445.4,63.7 446.2,74.2 447.3,82.6 448,87.9 448.6,95.9 450,103.8 451.3,105.2 454,104.5 456,103.8 458,105.8 462,106.4 467,105.5 468.8,91.6 471.9,91 474.4,82.9 479.3,73 482.4,68 485.5,65 487.4,63.7 488,54.4 489.3,47 491.7,44.5 493.5,44.5 496.1,48.2 499.2,53.2 501.7,59.3 504.1,70.5 506.6,81.7 509.1,90.3 512.2,99 516.5,99.6 518.4,104 520.2,108.9 521.4,119 523.5,127.5 525.6,136 527.7,144.5 529.5,156 530.6,167.7 533.5,169.8 536,168.7 537.7,161.3 539.3,153.8 540.4,145.3 541,140 542.9,127.5 545.4,120.5 547.5,113.4 549.7,112 552.5,113.4 556,116.2 558.8,120.5 561.7,123.3 564.5,127.5 566,133.2 567.3,158.7 569.1,167.8 571.2,170.7 572.6,182 574,201.9 575.5,213.2 576.9,210.4 578.3,204.7 580.4,197.6 582.6,197.6 584.7,207.5 586.8,217.4 589.6,224.5 591.8,231.6 593,238.5 594.4,258.3 595.1,266.9 595.8,283.9 597.9,292.4 600,293.8 601,304 602,317 604.2,316.3 605.3,309 606.6,306.7 609,306 610,265.7 617.2,265.7 619.6,262 622,265.7 625.7,273 628.1,273 630.6,268.2 635.5,270.7 639.2,272 642.9,278 644.5,281"/>
<rect x="7" y="65" width="1" height="24" fill="#F23645"/><rect x="8" y="70" width="1" height="20" fill="#F23645"/><rect x="9" y="65" width="1" height="18" fill="#089981"/><rect x="10" y="66" width="1" height="22" fill="#F23645"/><rect x="11" y="70" width="1" height="27" fill="#F23645"/><rect x="12" y="66" width="1" height="28" fill="#089981"/><rect x="14" y="65" width="1" height="13" fill="#089981"/><rect x="15" y="44" width="1" height="50" fill="#089981"/><rect x="16" y="43" width="1" height="36" fill="#089981"/><rect x="17" y="43" width="1" height="12" fill="#089981"/><rect x="365" y="43" width="1" height="11.7" fill="#F23645"/><rect x="366" y="43" width="1" height="3.8" fill="#089981"/><rect x="369" y="43" width="1" height="17.6" fill="#F23645"/><rect x="370" y="43" width="1" height="16.5" fill="#089981"/><rect x="371" y="43" width="1" height="16" fill="#F23645"/><rect x="372" y="48.4" width="1" height="22.3" fill="#F23645"/><rect x="373" y="45.2" width="1" height="12.7" fill="#089981"/><rect x="392" y="43" width="1" height="5.4" fill="#F23645"/><rect x="393" y="43" width="1" height="15.5" fill="#F23645"/><rect x="394" y="43" width="1" height="9.6" fill="#089981"/><rect x="395" y="43" width="1" height="12.8" fill="#F23645"/><rect x="397" y="54.7" width="1" height="27.6" fill="#F23645"/><rect x="398" y="74.9" width="1" height="17" fill="#F23645"/><rect x="399" y="76" width="1" height="11.6" fill="#089981"/><rect x="400" y="76" width="1" height="19.6" fill="#089981"/><rect x="401" y="43" width="1" height="39.3" fill="#089981"/><rect x="402" y="61.1" width="1" height="18.6" fill="#F23645"/><rect x="403" y="43" width="1" height="28.7" fill="#089981"/><rect x="404" y="43" width="1" height="14.9" fill="#089981"/><rect x="405" y="43" width="1" height="18.1" fill="#F23645"/><rect x="406" y="59" width="1" height="17" fill="#F23645"/><rect x="407" y="61.1" width="1" height="10.6" fill="#089981"/><rect x="408" y="61.1" width="1" height="22.3" fill="#F23645"/><rect x="409" y="43" width="1" height="35.1" fill="#089981"/><rect x="410" y="43" width="1" height="45.7" fill="#089981"/><rect x="411" y="43" width="1" height="9.6" fill="#F23645"/><rect x="412" y="43" width="1" height="21.8" fill="#089981"/><rect x="415" y="43" width="1" height="2.2" fill="#089981"/><rect x="435" y="43" width="1" height="23" fill="#F23645"/><rect x="436" y="43" width="1" height="17" fill="#F23645"/><rect x="437" y="43" width="1" height="20" fill="#089981"/><rect x="439" y="47" width="1" height="13" fill="#F23645"/><rect x="440" y="47" width="1" height="36.9" fill="#F23645"/><rect x="442" y="72" width="1" height="21.2" fill="#F23645"/><rect x="443" y="82.6" width="1" height="25.2" fill="#F23645"/><rect x="444" y="84" width="1" height="25" fill="#089981"/><rect x="446" y="95.9" width="1" height="26.5" fill="#F23645"/><rect x="447" y="94.5" width="1" height="31.9" fill="#089981"/><rect x="448" y="97.2" width="1" height="11.8" fill="#089981"/><rect x="450" y="86.6" width="1" height="17.2" fill="#089981"/><rect x="451" y="83.2" width="1" height="16.6" fill="#089981"/><rect x="452" y="84" width="1" height="15.8" fill="#F23645"/><rect x="454" y="86.6" width="1" height="15.9" fill="#F23645"/><rect x="455" y="89.2" width="1" height="33.2" fill="#F23645"/><rect x="456" y="87.9" width="1" height="21.1" fill="#F23645"/><rect x="458" y="98.5" width="1" height="29.2" fill="#089981"/><rect x="458" y="86.6" width="1" height="43.8" fill="#F23645"/><rect x="460" y="80" width="1" height="50.4" fill="#089981"/><rect x="461" y="87.9" width="1" height="19.9" fill="#F23645"/><rect x="462" y="89.2" width="1" height="22.6" fill="#089981"/><rect x="463" y="78.6" width="1" height="21.2" fill="#F23645"/><rect x="465" y="86.6" width="1" height="23.9" fill="#F23645"/><rect x="466" y="86.6" width="1" height="31.8" fill="#089981"/><rect x="467" y="77.3" width="1" height="10.6" fill="#089981"/><rect x="469" y="73.3" width="1" height="13.3" fill="#089981"/><rect x="470" y="68" width="1" height="14.6" fill="#F23645"/><rect x="471" y="65.3" width="1" height="14.7" fill="#089981"/><rect x="473" y="61.3" width="1" height="17.3" fill="#F23645"/><rect x="474" y="65.3" width="1" height="18.6" fill="#F23645"/><rect x="475" y="72" width="1" height="13.2" fill="#F23645"/><rect x="477" y="65.3" width="1" height="15.9" fill="#089981"/><rect x="478" y="61.9" width="1" height="37.2" fill="#089981"/><rect x="480" y="47.3" width="1" height="39.9" fill="#F23645"/><rect x="480" y="44.7" width="1" height="35.8" fill="#089981"/><rect x="482" y="43" width="1" height="28.2" fill="#F23645"/><rect x="483" y="43" width="1" height="14.9" fill="#F23645"/><rect x="484" y="43" width="1" height="17.6" fill="#089981"/><rect x="485" y="43" width="1" height="9.6" fill="#089981"/><rect x="488" y="43" width="1" height="3" fill="#F23645"/><rect x="490" y="43" width="1" height="7" fill="#F23645"/><rect x="492" y="46" width="1" height="13.3" fill="#F23645"/><rect x="493" y="43" width="1" height="13.6" fill="#089981"/><rect x="494" y="43" width="1" height="14.9" fill="#F23645"/><rect x="496" y="50" width="1" height="17.2" fill="#F23645"/><rect x="497" y="51.3" width="1" height="13.3" fill="#089981"/><rect x="498" y="50" width="1" height="13.2" fill="#089981"/><rect x="499" y="50" width="1" height="13.2" fill="#F23645"/><rect x="501" y="54" width="1" height="18.5" fill="#F23645"/><rect x="502" y="59.3" width="1" height="21.2" fill="#F23645"/><rect x="503" y="71.2" width="1" height="8" fill="#F23645"/><rect x="505" y="73.9" width="1" height="18.6" fill="#F23645"/><rect x="506" y="89.8" width="1" height="14.2" fill="#F23645"/><rect x="507" y="95.1" width="1" height="6.7" fill="#089981"/><rect x="509" y="84.5" width="1" height="15.9" fill="#089981"/><rect x="510" y="84.5" width="1" height="17.3" fill="#F23645"/><rect x="511" y="95.1" width="1" height="15.9" fill="#F23645"/><rect x="513" y="99.1" width="1" height="14.6" fill="#089981"/><rect x="514" y="100.4" width="1" height="9.3" fill="#F23645"/><rect x="515" y="104.9" width="1" height="8.5" fill="#F23645"/><rect x="517" y="106.3" width="1" height="12.7" fill="#089981"/><rect x="518" y="106.3" width="1" height="9.9" fill="#F23645"/><rect x="520" y="107.7" width="1" height="9.9" fill="#F23645"/><rect x="521" y="120.5" width="1" height="7" fill="#F23645"/><rect x="521" y="120.5" width="1" height="18.3" fill="#F23645"/><rect x="522" y="100.7" width="1" height="26.8" fill="#F23645"/><rect x="523" y="126.1" width="1" height="28.3" fill="#F23645"/><rect x="524" y="127.5" width="1" height="26.9" fill="#F23645"/><rect x="525" y="137.4" width="1" height="22.3" fill="#F23645"/><rect x="526" y="143.1" width="1" height="30.9" fill="#F23645"/><rect x="527" y="154.4" width="1" height="28.2" fill="#F23645"/><rect x="528" y="163" width="1" height="23.8" fill="#F23645"/><rect x="529" y="182.6" width="1" height="7.4" fill="#F23645"/><rect x="530" y="184.7" width="1" height="8.5" fill="#F23645"/><rect x="531" y="184.7" width="1" height="13.3" fill="#089981"/><rect x="532" y="171.9" width="1" height="23.4" fill="#089981"/><rect x="533" y="142.1" width="1" height="41.5" fill="#089981"/><rect x="534" y="141.7" width="1" height="20.6" fill="#F23645"/><rect x="535" y="143.2" width="1" height="16.9" fill="#089981"/><rect x="536" y="141.7" width="1" height="7" fill="#089981"/><rect x="537" y="126.1" width="1" height="18.4" fill="#089981"/><rect x="539" y="124.7" width="1" height="7.1" fill="#089981"/><rect x="539" y="119" width="1" height="11.4" fill="#F23645"/><rect x="540" y="113.4" width="1" height="12.7" fill="#089981"/><rect x="541" y="112" width="1" height="8.5" fill="#089981"/><rect x="543" y="109.1" width="1" height="14.2" fill="#F23645"/><rect x="544" y="110.6" width="1" height="7" fill="#089981"/><rect x="545" y="110.6" width="1" height="11.3" fill="#F23645"/><rect x="546" y="103.5" width="1" height="14.1" fill="#089981"/><rect x="547" y="100.7" width="1" height="9.9" fill="#F23645"/><rect x="548" y="104.9" width="1" height="11.3" fill="#089981"/><rect x="550" y="106.3" width="1" height="11.3" fill="#F23645"/><rect x="551" y="106.3" width="1" height="14.2" fill="#089981"/><rect x="552" y="109.1" width="1" height="14.2" fill="#F23645"/><rect x="553" y="114.8" width="1" height="9.9" fill="#089981"/><rect x="555" y="117.6" width="1" height="9.9" fill="#F23645"/><rect x="556" y="120.5" width="1" height="8.5" fill="#089981"/><rect x="557" y="116.2" width="1" height="11.3" fill="#F23645"/><rect x="558" y="119" width="1" height="12.8" fill="#089981"/><rect x="559" y="119" width="1" height="11.4" fill="#089981"/><rect x="560" y="114.8" width="1" height="12.7" fill="#F23645"/><rect x="561" y="123.3" width="1" height="7.1" fill="#089981"/><rect x="562" y="104.9" width="1" height="22.6" fill="#F23645"/><rect x="563" y="114.8" width="1" height="14.2" fill="#089981"/><rect x="564" y="109.1" width="1" height="35.4" fill="#F23645"/><rect x="565" y="119" width="1" height="46" fill="#F23645"/><rect x="566" y="130" width="1" height="60" fill="#F23645"/><rect x="567" y="165" width="1" height="45.4" fill="#F23645"/><rect x="567" y="189.1" width="1" height="29.8" fill="#F23645"/><rect x="568" y="204.7" width="1" height="28.3" fill="#F23645"/><rect x="569" y="206.1" width="1" height="15.6" fill="#F23645"/><rect x="570" y="206.1" width="1" height="21.3" fill="#F23645"/><rect x="571" y="213.2" width="1" height="17" fill="#F23645"/><rect x="572" y="214.6" width="1" height="24.1" fill="#089981"/><rect x="573" y="201.9" width="1" height="25.5" fill="#089981"/><rect x="574" y="201.9" width="1" height="12.7" fill="#F23645"/><rect x="575" y="190.5" width="1" height="11.4" fill="#089981"/><rect x="576" y="190.5" width="1" height="9.9" fill="#089981"/><rect x="577" y="180.6" width="1" height="15.6" fill="#089981"/><rect x="578" y="174.9" width="1" height="31.2" fill="#F23645"/><rect x="579" y="182" width="1" height="19.9" fill="#F23645"/><rect x="580" y="201.9" width="1" height="18.4" fill="#F23645"/><rect x="581" y="197.6" width="1" height="14.2" fill="#089981"/><rect x="582" y="193.3" width="1" height="14.2" fill="#089981"/><rect x="583" y="197.6" width="1" height="26.9" fill="#F23645"/><rect x="584" y="206.1" width="1" height="18.4" fill="#F23645"/><rect x="585" y="216" width="1" height="31" fill="#F23645"/><rect x="586" y="217.4" width="1" height="17.1" fill="#089981"/><rect x="587" y="220.3" width="1" height="21" fill="#F23645"/><rect x="589" y="221.7" width="1" height="31" fill="#089981"/><rect x="590" y="224.5" width="1" height="16.8" fill="#F23645"/><rect x="591" y="230.2" width="1" height="25.3" fill="#089981"/><rect x="592" y="235.9" width="1" height="12.1" fill="#F23645"/><rect x="593" y="237.1" width="1" height="46.8" fill="#F23645"/><rect x="594" y="251.3" width="1" height="96.3" fill="#F23645"/><rect x="595" y="269.7" width="1" height="25.5" fill="#F23645"/><rect x="597" y="242.8" width="1" height="59" fill="#F23645"/><rect x="598" y="278.2" width="1" height="34.4" fill="#F23645"/><rect x="599" y="286.7" width="1" height="19.9" fill="#089981"/><rect x="600" y="286.7" width="1" height="19.9" fill="#089981"/><rect x="601" y="299" width="1" height="24.8" fill="#F23645"/><rect x="602" y="298" width="1" height="73.2" fill="#F23645"/><rect x="603" y="265.4" width="1" height="99.4" fill="#089981"/><rect x="604" y="269.7" width="1" height="21.3" fill="#F23645"/><rect x="605" y="271.1" width="1" height="17" fill="#089981"/><rect x="606" y="246" width="1" height="39.5" fill="#089981"/><rect x="607" y="253.3" width="1" height="41.7" fill="#F23645"/><rect x="608" y="268.3" width="1" height="25.5" fill="#089981"/><rect x="609" y="265.4" width="1" height="48.5" fill="#F23645"/><rect x="610" y="218.9" width="1" height="85.4" fill="#089981"/><rect x="611" y="220" width="1" height="44.5" fill="#F23645"/><rect x="612" y="243.4" width="1" height="17.4" fill="#F23645"/><rect x="614" y="243.4" width="1" height="18.6" fill="#089981"/><rect x="615" y="250.9" width="1" height="32.1" fill="#F23645"/><rect x="617" y="246" width="1" height="35.8" fill="#089981"/><rect x="618" y="246" width="1" height="14.8" fill="#F23645"/><rect x="619" y="258.3" width="1" height="35.9" fill="#F23645"/><rect x="620" y="264.5" width="1" height="35.8" fill="#089981"/><rect x="622" y="255.8" width="1" height="17.3" fill="#089981"/><rect x="623" y="253.3" width="1" height="21.1" fill="#F23645"/><rect x="624" y="250.9" width="1" height="14.8" fill="#089981"/><rect x="625" y="248.4" width="1" height="22.3" fill="#089981"/><rect x="626" y="253.3" width="1" height="21.1" fill="#F23645"/><rect x="628" y="250.9" width="1" height="18.5" fill="#089981"/><rect x="629" y="255.8" width="1" height="11.2" fill="#F23645"/><rect x="630" y="259.5" width="1" height="22.3" fill="#F23645"/><rect x="631" y="267" width="1" height="22.2" fill="#089981"/><rect x="633" y="258.3" width="1" height="17.7" fill="#F23645"/><rect x="634" y="253.3" width="1" height="18.6" fill="#089981"/><rect x="635" y="254.6" width="1" height="18.5" fill="#089981"/><rect x="636" y="255.8" width="1" height="27.2" fill="#F23645"/><rect x="638" y="280.6" width="1" height="13.6" fill="#F23645"/><rect x="639" y="281.8" width="1" height="16.1" fill="#F23645"/><rect x="640" y="283" width="1" height="17.3" fill="#F23645"/><rect x="641" y="273.1" width="1" height="31.9" fill="#089981"/><rect x="643" y="278" width="1" height="10" fill="#F23645"/>
</g>
<path d="M810 146 H857 Q859 146 859 148 V161 Q859 163 857 163 H810 Z" fill="#000"/><text x="818.3" y="158.8" fill="#fff" font-size="12.3" font-weight="bold" textLength="34.2" lengthAdjust="spacingAndGlyphs">2.0801</text><path d="M810 193 H857 Q859 193 859 195 V208 Q859 210 857 210 H810 Z" fill="#000"/><text x="818.3" y="205.8" fill="#fff" font-size="12.3" font-weight="bold" textLength="34.2" lengthAdjust="spacingAndGlyphs">1.9886</text><path d="M810 210 H857 Q859 210 859 212 V225 Q859 227 857 227 H810 Z" fill="#000"/><text x="818.3" y="222.8" fill="#fff" font-size="12.3" font-weight="bold" textLength="34.2" lengthAdjust="spacingAndGlyphs">1.9751</text><path d="M810 227 H857 Q859 227 859 229 V242 Q859 244 857 244 H810 Z" fill="#4CAF50"/><text x="818.3" y="239.8" fill="#fff" font-size="12.3" font-weight="bold" textLength="34.2" lengthAdjust="spacingAndGlyphs">1.9266</text><path d="M810 244 H857 Q859 244 859 246 V259 Q859 261 857 261 H810 Z" fill="#2962FF"/><text x="818.3" y="256.8" fill="#fff" font-size="12.3" font-weight="bold" textLength="34.2" lengthAdjust="spacingAndGlyphs">1.9240</text><path d="M810 261 H857 Q859 261 859 263 V276 Q859 278 857 278 H810 Z" fill="#000"/><text x="818.3" y="273.8" fill="#fff" font-size="12.3" font-weight="bold" textLength="34.2" lengthAdjust="spacingAndGlyphs">1.9198</text><path d="M810 278 H857 Q859 278 859 280 V307 Q859 309 857 309 H810 Z" fill="#089981"/><text x="818.3" y="290.8" fill="#fff" font-size="12.3" font-weight="bold" textLength="34.2" lengthAdjust="spacingAndGlyphs">1.9177</text><path d="M810 309 H857 Q859 309 859 311 V324 Q859 326 857 326 H810 Z" fill="#EF9A9A"/><text x="818.3" y="321.8" fill="#131722" font-size="12.3" font-weight="normal" textLength="34.2" lengthAdjust="spacingAndGlyphs">1.9097</text><path d="M810 326 H857 Q859 326 859 328 V340.9 Q859 342.9 857 342.9 H810 Z" fill="#000"/><text x="818.3" y="338.8" fill="#fff" font-size="12.3" font-weight="bold" textLength="34.2" lengthAdjust="spacingAndGlyphs">1.8958</text><path d="M810 342.9 H857 Q859 342.9 859 344.9 V357.79999999999995 Q859 359.79999999999995 857 359.79999999999995 H810 Z" fill="#000"/><text x="818.3" y="355.7" fill="#fff" font-size="12.3" font-weight="bold" textLength="34.2" lengthAdjust="spacingAndGlyphs">1.8637</text><path d="M810 359.8 H857 Q859 359.8 859 361.8 V374.7 Q859 376.7 857 376.7 H810 Z" fill="#000"/><text x="818.3" y="372.6" fill="#fff" font-size="12.3" font-weight="bold" textLength="34.2" lengthAdjust="spacingAndGlyphs">1.8436</text><path d="M810 376.7 H857 Q859 376.7 859 378.7 V391.59999999999997 Q859 393.59999999999997 857 393.59999999999997 H810 Z" fill="#000"/><text x="818.3" y="389.5" fill="#fff" font-size="12.3" font-weight="bold" textLength="34.2" lengthAdjust="spacingAndGlyphs">1.8204</text><text x="818.3" y="304.6" fill="#E0F2EF" font-size="12.3" textLength="28.7" lengthAdjust="spacingAndGlyphs">29:52</text>
<text x="818.3" y="104.5" fill="#131722" font-size="12.3" textLength="35" lengthAdjust="spacingAndGlyphs">2.1500</text><text x="818.3" y="143" fill="#131722" font-size="12.3" textLength="35" lengthAdjust="spacingAndGlyphs">2.1000</text><text x="818.3" y="182.5" fill="#131722" font-size="12.3" textLength="35" lengthAdjust="spacingAndGlyphs">2.0500</text><text x="818.3" y="402.5" fill="#131722" font-size="12.3" textLength="35" lengthAdjust="spacingAndGlyphs">1.7900</text><text x="818.3" y="439.5" fill="#131722" font-size="12.3" textLength="35" lengthAdjust="spacingAndGlyphs">1.7500</text><text x="818.3" y="472.5" fill="#131722" font-size="12.3" textLength="35" lengthAdjust="spacingAndGlyphs">1.7150</text>
<text x="40.3" y="517.9" text-anchor="middle" fill="#131722" font-size="12.3" font-weight="normal">8</text><text x="125" y="517.9" text-anchor="middle" fill="#131722" font-size="12.3" font-weight="normal" textLength="11.5" lengthAdjust="spacingAndGlyphs">10</text><text x="209.3" y="517.9" text-anchor="middle" fill="#131722" font-size="12.3" font-weight="normal" textLength="11.5" lengthAdjust="spacingAndGlyphs">12</text><text x="293.6" y="517.9" text-anchor="middle" fill="#131722" font-size="12.3" font-weight="normal" textLength="11.5" lengthAdjust="spacingAndGlyphs">14</text><text x="378" y="517.9" text-anchor="middle" fill="#131722" font-size="12.3" font-weight="normal" textLength="11.5" lengthAdjust="spacingAndGlyphs">16</text><text x="462.6" y="517.9" text-anchor="middle" fill="#131722" font-size="12.3" font-weight="normal" textLength="11.5" lengthAdjust="spacingAndGlyphs">18</text><text x="547" y="517.9" text-anchor="middle" fill="#131722" font-size="12.3" font-weight="normal" textLength="11.5" lengthAdjust="spacingAndGlyphs">20</text><text x="631.6" y="517.9" text-anchor="middle" fill="#131722" font-size="12.3" font-weight="normal" textLength="11.5" lengthAdjust="spacingAndGlyphs">22</text><text x="716" y="517.9" text-anchor="middle" fill="#131722" font-size="12.3" font-weight="bold" textLength="11.8" lengthAdjust="spacingAndGlyphs">24</text><text x="800.5" y="517.9" text-anchor="middle" fill="#131722" font-size="12.3" font-weight="normal" textLength="11.5" lengthAdjust="spacingAndGlyphs">26</text>
<rect x="813.3" y="48.3" width="45.2" height="25.8" rx="4" fill="#fff" stroke="#EAEAEA" stroke-width="1.2"/>
<text x="822.6" y="65.9" fill="#131722" font-size="12.3" textLength="27.2" lengthAdjust="spacingAndGlyphs">USDT</text>
<rect x="6.5" y="43.5" width="857" height="485" fill="none" stroke="#2E2E2E" stroke-width="1"/>
<circle cx="644.3" cy="487.5" r="9.6" fill="none" stroke="#9C27B0" stroke-width="1.4"/>
<path d="M648.1 482.1 L640.2 488.1 L644.6 488.1 L640.9 492.9 L648.7 486.9 L644.3 486.9 Z" fill="#9C27B0" stroke="#9C27B0" stroke-width="0.5" stroke-linejoin="round"/>
<g fill="#131722">
<path d="M6.2 540.3 H14.8 V551.5 H10.3 V544.8 H6.2 Z"/>
<circle cx="18.8" cy="542.8" r="1.9"/>
<path d="M22.8 540.3 H28.4 L24.5 551.5 H19.2 Z"/>
</g>
</svg>
<div class="t b" style="left:6px;top:7px;font-size:12.3px">mazloomseyedmohammad79</div>
<div class="t" style="left:180px;top:7px;font-size:12.68px">published on TradingView.com, November 22, 2025 07:00:11 EST</div>
<div class="t b" style="left:6.5px;top:24px;font-size:11.6px">BINANCE:XRPUSDT, 30</div>
<div class="t" style="left:143.8px;top:24px;font-size:12.3px">1.9177</div>
<div class="t" style="left:199.4px;top:24px;font-size:12px">−0.0332 (−1.7%)</div>
<div class="t b" style="left:294.7px;top:24px;font-size:12px">O:</div>
<div class="t r" style="left:310px;top:24px;font-size:12.3px">1.9173</div>
<div class="t b" style="left:353.1px;top:24px;font-size:12px">H:</div>
<div class="t r" style="left:366.5px;top:24px;font-size:12.3px">1.9177</div>
<div class="t b" style="left:408.8px;top:24px;font-size:12px">L:</div>
<div class="t r" style="left:421px;top:24px;font-size:12.3px">1.9173</div>
<div class="t b" style="left:463.4px;top:24px;font-size:12px">C:</div>
<div class="t r" style="left:475.8px;top:24px;font-size:12.3px">1.9177</div>
<div class="t b" style="left:15.2px;top:55px;font-size:12px">XRP / TetherUS · 30 · Binance</div>
<div class="t" style="left:15.8px;top:72px;font-size:12.5px">Ichimoku (9, 26, 52, 26)</div>
<div class="t" style="left:33.8px;top:537.5px;font-size:15px;letter-spacing:0.75px;-webkit-text-stroke:0.45px #131722">TradingView</div>
<svg width="12" height="10" style="position:absolute;left:185px;top:24.8px"><path d="M0 0 H10 L5 9.6 Z" fill="#F04A4A"/></svg>
</body></html>
